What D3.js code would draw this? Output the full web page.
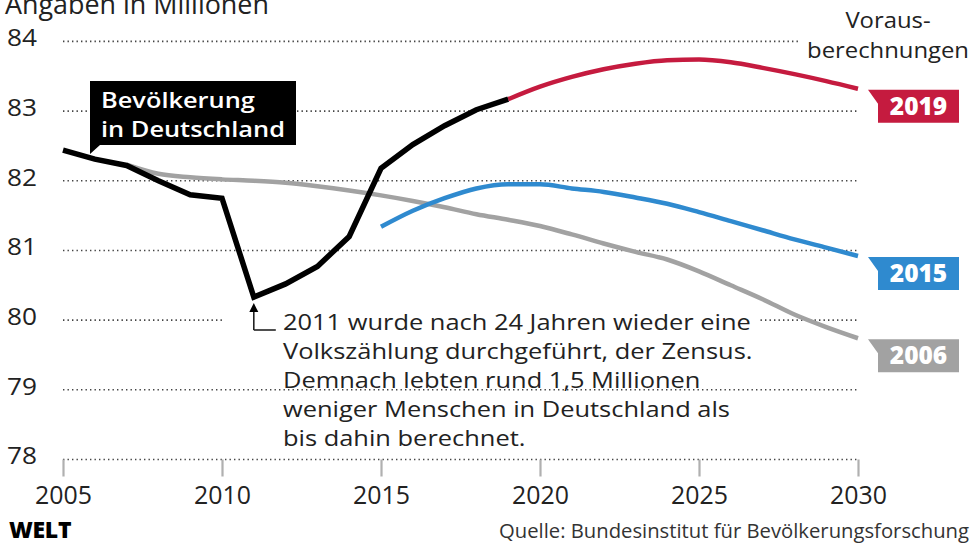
<!DOCTYPE html>
<html><head><meta charset="utf-8">
<script src="https://cdn.jsdelivr.net/npm/d3@7"></script>
<style>
html,body{margin:0;padding:0;background:#fff;}
svg{display:block;}
text{font-family:"Open Sans","Noto Sans",sans-serif;}
</style></head>
<body><svg id="c" width="976" height="546"></svg>
<script>
// ---- data ----
const actualYears = [2005,2006,2007,2008,2009,2010,2011,2012,2013,2014,2015,2016,2017,2018,2019];
const actualValues = [82.44,82.31,82.22,82.0,81.8,81.75,80.33,80.52,80.77,81.2,82.18,82.52,82.79,83.02,83.17];

const proj2019Years = [2019,2020,2021,2022,2023,2024,2025,2026,2027,2028,2029,2030];
const proj2019Values = [83.17,83.35,83.49,83.6,83.68,83.73,83.74,83.7,83.62,83.53,83.43,83.32];

const proj2015Years = [2015,2016,2017,2018,2019,2020,2021,2022,2023,2024,2025,2026,2027,2028,2029,2030];
const proj2015Values = [81.34,81.57,81.75,81.89,81.95,81.95,81.89,81.84,81.76,81.67,81.55,81.42,81.29,81.16,81.04,80.92];

const proj2006Years = [2007,2008,2009,2010,2011,2012,2013,2014,2015,2016,2017,2018,2019,2020,2021,2022,2023,2024,2025,2026,2027,2028,2029,2030];
const proj2006Values = [82.23,82.1,82.05,82.02,82.0,81.97,81.92,81.86,81.79,81.71,81.62,81.52,81.44,81.35,81.23,81.1,80.98,80.87,80.7,80.5,80.3,80.08,79.9,79.74];

const yTicks = [78,79,80,81,82,83,84];
const xTicks = [2005,2010,2015,2020,2025,2030];
const seriesLabels = ["2019","2015","2006"];

const title = "Angaben in Millionen";
const mainLabel = ["Bevölkerung","in Deutschland"];
const projHeader = ["Voraus-","berechnungen"];
const noteLines = ["2011 wurde nach 24 Jahren wieder eine","Volkszählung durchgeführt, der Zensus.","Demnach lebten rund 1,5 Millionen","weniger Menschen in Deutschland als","bis dahin berechnet."];
const source = "Quelle: Bundesinstitut für Bevölkerungsforschung";
const brand = "WELT";

// ---- scales ----
const svg = d3.select("#c");
const x = d3.scaleLinear().domain([2005,2030]).range([63,858]);
const y = d3.scaleLinear().domain([78,84]).range([459.5,41.4]);

const colors = {a:"#000000", p2019:"#c51b3f", p2015:"#2f8acf", p2006:"#a2a2a2"};
const textCol = "#222";

// scale font size so that a reference element gets a given width
function fit(sel, refNode, target){
  const fs = parseFloat(sel.style("font-size"));
  const w = refNode.getComputedTextLength();
  sel.style("font-size", (fs*target/w).toFixed(2)+"px");
}
// stretch a group horizontally around ax so that a reference text gets a given width
function stretch(g, refNode, target, ax){
  const s = target/refNode.getComputedTextLength();
  g.attr("transform",`translate(${ax},0) scale(${s},1) translate(${-ax},0)`);
}

// gridlines
const grid = svg.append("g");
grid.selectAll("line").data(yTicks).join("line")
  .attr("x1", x(2005)).attr("x2", x(2030))
  .attr("y1", d=>y(d)).attr("y2", d=>y(d))
  .attr("stroke","#444").attr("stroke-width",1.6)
  .attr("stroke-dasharray","1.4,3.1");

// x axis ticks
const xAxis = d3.axisBottom(x).tickValues(xTicks).tickFormat(d3.format("d")).tickSize(17).tickPadding(10);
const gx = svg.append("g").attr("transform",`translate(0,${y(78)})`).call(xAxis);
gx.select(".domain").remove();
gx.selectAll(".tick line").attr("stroke","#b0b0b0").attr("stroke-width",2.2);
const xl = gx.selectAll(".tick text").attr("fill",textCol).style("font-size","22px").style("font-family","'Open Sans',sans-serif");
fit(xl, xl.node(), 57);

// y labels
const ylG = svg.append("g");
const yl = ylG.selectAll("text").data(yTicks).join("text")
  .attr("x",7).attr("y",d=>y(d)+5)
  .attr("fill",textCol).style("font-size","23px")
  .text(d=>d);
stretch(ylG, yl.node(), 30, 7);

// title
const tt = svg.append("text").attr("x",5).attr("y",14).attr("fill",textCol).style("font-size","22px").text(title);
fit(tt, tt.node(), 264);

// projection header
const hdr = svg.append("g");
const hdrBg = hdr.append("g");
const hdrT = hdr.selectAll("text.h").data(projHeader).join("text").attr("class","h")
  .attr("x",888).attr("y",(d,i)=>28+i*30)
  .attr("text-anchor","middle").attr("fill",textCol).style("font-size","21.5px")
  .text(d=>d);
stretch(hdr, hdrT.nodes()[1], 162, 888);

// annotation
const note = svg.append("g");
const noteBg = note.append("g");
const noteT = note.selectAll("text.n").data(noteLines).join("text").attr("class","n")
  .attr("x",283).attr("y",(d,i)=>330+i*29)
  .attr("fill",textCol).style("font-size","21px")
  .text(d=>d);
stretch(note, noteT.node(), 468, 283);

// lines
const line = d3.line().x(d=>x(d[0])).y(d=>y(d[1]));
const smooth = d3.line().x(d=>x(d[0])).y(d=>y(d[1])).curve(d3.curveMonotoneX);
const zip = (a,b)=>a.map((v,i)=>[v,b[i]]);

svg.append("path").datum(zip(proj2006Years,proj2006Values)).attr("d",smooth)
  .attr("fill","none").attr("stroke",colors.p2006).attr("stroke-width",4.5).attr("stroke-linecap","butt");
svg.append("path").datum(zip(proj2015Years,proj2015Values)).attr("d",smooth)
  .attr("fill","none").attr("stroke",colors.p2015).attr("stroke-width",4.5);
svg.append("path").datum(zip(proj2019Years,proj2019Values)).attr("d",smooth)
  .attr("fill","none").attr("stroke",colors.p2019).attr("stroke-width",4.5);
svg.append("path").datum(zip(actualYears,actualValues)).attr("d",line)
  .attr("fill","none").attr("stroke",colors.a).attr("stroke-width",5.5).attr("stroke-linejoin","miter");

// annotation arrow
const ax = x(2011);
const arrow = svg.append("g");
arrow.append("line").attr("x1",ax).attr("x2",ax).attr("y1",309).attr("y2",330).attr("stroke",textCol).attr("stroke-width",1.6);
arrow.append("line").attr("x1",ax).attr("x2",ax+22).attr("y1",330).attr("y2",330).attr("stroke",textCol).attr("stroke-width",1.6);
arrow.append("path").attr("d",`M${ax},${303}L${ax-4.5},${312}L${ax+4.5},${312}Z`).attr("fill","#000");

// main label box
const mb = svg.append("g");
mb.append("path").attr("d","M90,81H296V145H100L90,154Z").attr("fill","#000");
const mbG = mb.append("g");
const mbT = mbG.selectAll("text").data(mainLabel).join("text")
  .attr("x",101).attr("y",(d,i)=>108+i*29)
  .attr("fill","#fff").style("font-size","21.2px").style("font-weight",600)
  .text(d=>d);
stretch(mbG, mbT.nodes()[1], 184, 101);

// series label boxes
const endVals = [proj2019Values[proj2019Values.length-1], proj2015Values[proj2015Values.length-1], proj2006Values[proj2006Values.length-1]];
const boxCols = [colors.p2019, colors.p2015, colors.p2006];
const tipX = x(2030)+10;
const lb = svg.append("g");
seriesLabels.forEach((lab,i)=>{
  const t = y(endVals[i]) + 1;
  const L = tipX+10, R = tipX+91, H = 33;
  lb.append("path").attr("d",`M${tipX},${t}H${R}V${t+H}H${L}V${t+14}Z`).attr("fill",boxCols[i]);
  lb.append("text").attr("x",(L+R)/2).attr("y",t+H/2+8.5).attr("text-anchor","middle")
    .attr("fill","#fff").style("font-family","'Open Sans',sans-serif").style("font-weight",800).style("font-size","24.5px")
    .text(lab);
});

// footer
const br = svg.append("text").attr("x",9).attr("y",538).attr("fill","#000")
  .style("font-family","'Open Sans',sans-serif").style("font-weight",800).style("font-size","20px").style("letter-spacing","-0.3px")
  .text(brand);
fit(br, br.node(), 62);
const src = svg.append("text").attr("x",969).attr("y",538).attr("text-anchor","end").attr("fill","#333")
  .style("font-size","18px").text(source);
fit(src, src.node(), 470);

// white backgrounds behind header and annotation lines (inside their stretched groups)
function addBg(layer, sel, padX, padTop, padBot){
  sel.each(function(){
    const b = this.getBBox();
    layer.append("rect").attr("x",b.x-padX).attr("y",b.y+padTop).attr("width",b.width+2*padX).attr("height",b.height-padTop-padBot).attr("fill","#fff");
  });
}
addBg(hdrBg, hdrT, 7, 0, 0);
addBg(noteBg, noteT, 6, 3, 6);
const b0 = noteT.node().getBBox();
noteBg.append("rect").attr("x",ax-20).attr("y",b0.y+3).attr("width",b0.x-ax+20).attr("height",b0.height-9).attr("fill","#fff");
</script>
</body></html>
